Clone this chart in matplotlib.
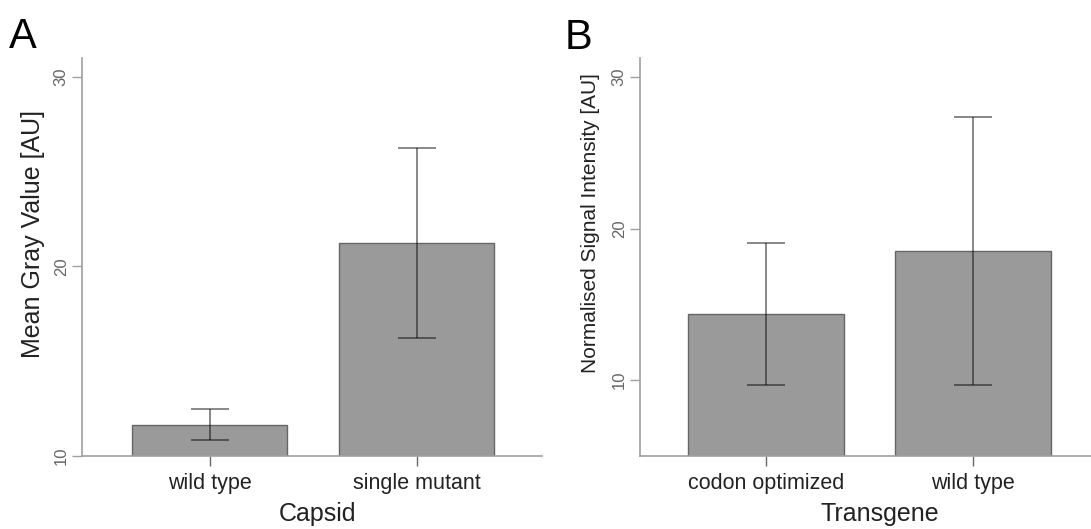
import matplotlib
matplotlib.use("Agg")
import matplotlib.pyplot as plt

plt.rcParams['font.family'] = ['Liberation Sans', 'DejaVu Sans']

# Panel A data
capsid_labels = ["wild type", "single mutant"]
capsid_means = [11.65, 21.24]
capsid_err = [0.83, 4.99]

# Panel B data
transgene_labels = ["codon optimized", "wild type"]
transgene_means = [14.36, 18.5]
transgene_err = [4.68, 8.84]

W, H = 1091, 529
fig = plt.figure(figsize=(W / 100, H / 100), dpi=100)

bar_color = "#9a9a9a"
edge_color = "#666666"
axis_color = "#a0a0a0"

def px(x0, y0, x1, y1):
    return [x0 / W, 1 - y1 / H, (x1 - x0) / W, (y1 - y0) / H]

def panel(rect, labels, means, errs, ylim, xlim, yticks, width):
    ax = fig.add_axes(rect)
    pos = list(range(len(labels)))
    ax.bar(pos, means, width=width, color=bar_color, edgecolor=edge_color,
           linewidth=1.0, zorder=2)
    ax.errorbar(pos, means, yerr=errs, fmt='none', ecolor=(0, 0, 0, 0.5),
                elinewidth=1.3, capsize=14, capthick=1.3, zorder=3)
    ax.set_ylim(*ylim)
    ax.set_xlim(*xlim)
    ax.set_yticks(yticks)
    ax.set_yticklabels([str(t) for t in yticks], rotation=90, va='center',
                       fontsize=12, color="#666666")
    ax.set_xticks(pos)
    ax.set_xticklabels(labels, fontsize=15.5, color="#222222")
    for s in ['top', 'right']:
        ax.spines[s].set_visible(False)
    for s in ['left', 'bottom']:
        ax.spines[s].set_color(axis_color)
        ax.spines[s].set_linewidth(1.2)
    ax.tick_params(axis='y', length=7.5, width=1.0, color=axis_color, pad=2)
    ax.tick_params(axis='x', length=7.5, width=1.0, color="#666666", pad=5)
    return ax

axA = panel(px(82, 58, 542, 456), capsid_labels, capsid_means, capsid_err,
            (10, 31), (-0.616, 1.606), [10, 20, 30], 0.749)
axB = panel(px(640, 58, 1091, 456), transgene_labels, transgene_means, transgene_err,
            (5, 31.25), (-0.609, 1.570), [10, 20, 30], 0.754)

# Axis titles
fig.text(33 / W, 1 - 233.5 / H, "Mean Gray Value [AU]", rotation=90,
         ha='center', va='center', fontsize=18, color="#222222")
fig.text(590 / W, 1 - 223.5 / H, "Normalised Signal Intensity [AU]", rotation=90,
         ha='center', va='center', fontsize=15, color="#222222")
fig.text(318 / W, 1 - 514 / H, "Capsid", ha='center', va='center',
         fontsize=18, color="#222222")
fig.text(880 / W, 1 - 514 / H, "Transgene", ha='center', va='center',
         fontsize=18, color="#222222")

# Panel letters
fig.text(9 / W, 1 - 48 / H, "A", fontsize=30, ha='left', va='baseline', color="black")
fig.text(565 / W, 1 - 49 / H, "B", fontsize=30, ha='left', va='baseline', color="black")

fig.savefig("out.png", dpi=100)
